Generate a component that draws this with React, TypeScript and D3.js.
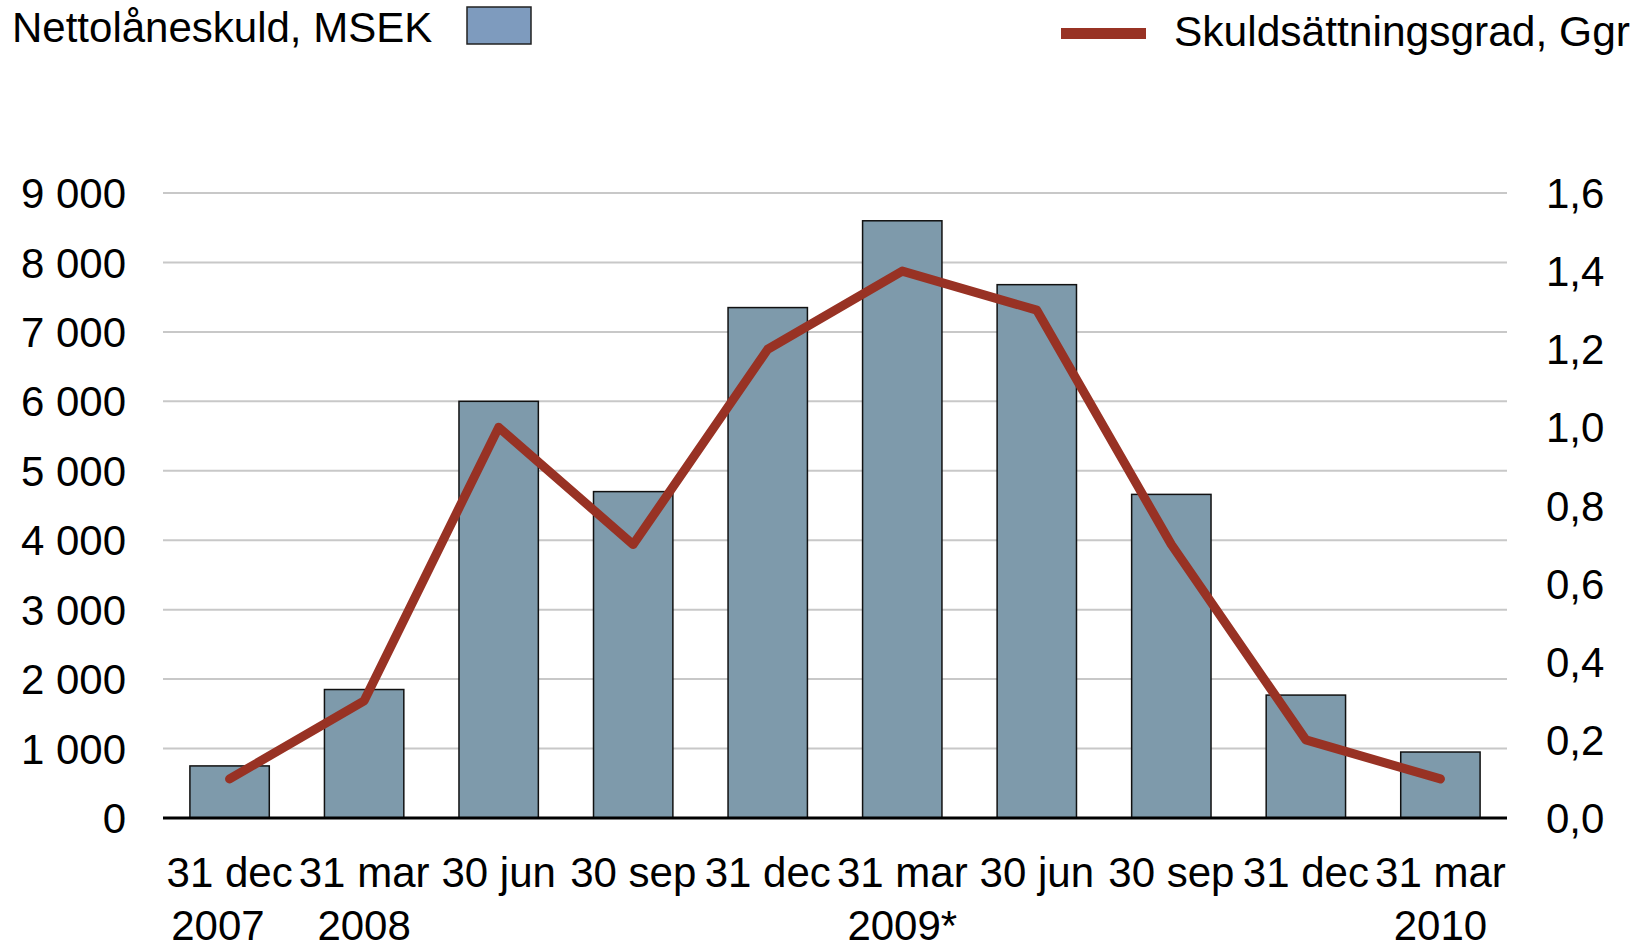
import React from 'react';
import * as d3 from 'd3';

// values
const periods = ['31 dec', '31 mar', '30 jun', '30 sep', '31 dec', '31 mar', '30 jun', '30 sep', '31 dec', '31 mar'];
const years = ['2007\u00a0\u00a0', '2008', '', '', '', '2009*', '', '', '', '2010'];
const nettoSkuld = [750, 1850, 6000, 4700, 7350, 8600, 7680, 4660, 1770, 950];
const skuldGrad = [0.1, 0.3, 1.0, 0.7, 1.2, 1.4, 1.3, 0.7, 0.2, 0.1];
const leftTicks = [0, 1000, 2000, 3000, 4000, 5000, 6000, 7000, 8000, 9000];
const rightTicks = [0, 0.2, 0.4, 0.6, 0.8, 1.0, 1.2, 1.4, 1.6];

const W = 1644;
const H = 946;
const FONT = '"Liberation Sans", Arial, sans-serif';
const barFill = '#7e9aab';
const lineColor = '#983224';

const App = () => {
  const x = d3.scaleBand<number>()
    .domain(d3.range(periods.length))
    .range([163, 1507])
    .paddingInner(0.41)
    .paddingOuter(0.2);

  const yLeft = d3.scaleLinear().domain([0, 9000]).range([818, 193]);
  const yRight = d3.scaleLinear().domain([0, 1.6]).range([818, 193]);

  const fmtLeft = (v: number) => d3.format(',')(v).replace(',', ' ');
  const fmtRight = (v: number) => v.toFixed(1).replace('.', ',');

  const cx = (i: number) => (x(i) as number) + x.bandwidth() / 2;

  const line = d3.line<number>()
    .x((d, i) => cx(i))
    .y(d => yRight(d));

  return (
    <svg width={W} height={H} style={{ position: 'absolute', left: 0, top: 0, background: '#fff' }}
      fontFamily={FONT}>
      {/* legend */}
      <text x={12} y={42} fontSize={42} fill="#000">Nettolåneskuld, MSEK</text>
      <rect x={467} y={7} width={64} height={37} fill="#7e9bbe" stroke="#222" strokeWidth={1.5} />
      <line x1={1061} x2={1146} y1={33.5} y2={33.5} stroke={lineColor} strokeWidth={11} />
      <text x={1174} y={46} fontSize={42.5} fill="#000">Skuldsättningsgrad, Ggr</text>

      {/* gridlines */}
      {leftTicks.filter(t => t > 0).map(t => (
        <line key={'g' + t} x1={163} x2={1507} y1={yLeft(t)} y2={yLeft(t)} stroke="#c8c8c8" strokeWidth={2} />
      ))}

      {/* left axis labels */}
      {leftTicks.map(t => (
        <text key={'l' + t} x={126} y={yLeft(t)} dy="0.36em" textAnchor="end" fontSize={42}>{fmtLeft(t)}</text>
      ))}

      {/* right axis labels */}
      {rightTicks.map(t => (
        <text key={'r' + t} x={1546} y={yRight(t)} dy="0.36em" textAnchor="start" fontSize={42}>{fmtRight(t)}</text>
      ))}

      {/* bars */}
      {nettoSkuld.map((v, i) => (
        <rect key={'b' + i} x={x(i)} y={yLeft(v)} width={x.bandwidth()} height={yLeft(0) - yLeft(v)}
          fill={barFill} stroke="#111" strokeWidth={1.5} />
      ))}

      {/* x axis */}
      <line x1={163} x2={1507} y1={818} y2={818} stroke="#000" strokeWidth={3} />

      {/* line */}
      <path d={line(skuldGrad) || ''} fill="none" stroke={lineColor} strokeWidth={9}
        strokeLinecap="round" strokeLinejoin="round" />

      {/* category labels */}
      {periods.map((p, i) => (
        <text key={'x' + i} x={cx(i)} y={887} textAnchor="middle" fontSize={42}>{p}</text>
      ))}
      {years.map((yr, i) => yr ? (
        <text key={'y' + i} x={cx(i)} y={940} textAnchor="middle" fontSize={42}
          style={{ whiteSpace: 'pre' }}>{yr}</text>
      ) : null)}
    </svg>
  );
};

export default App;
